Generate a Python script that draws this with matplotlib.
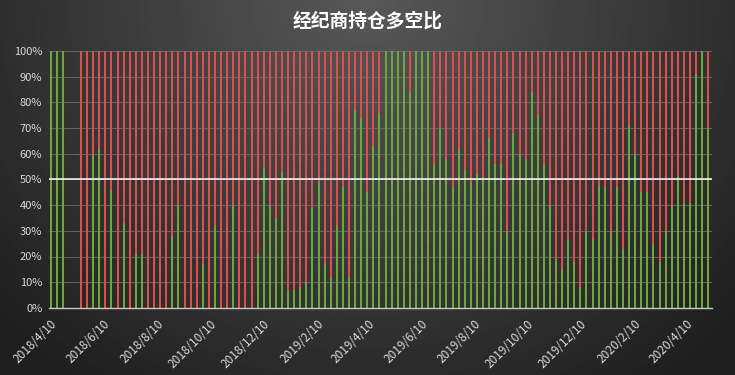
import numpy as np
import pandas as pd
import matplotlib
matplotlib.use("Agg")
import matplotlib.pyplot as plt
import matplotlib.dates as mdates

plt.rcParams['font.family'] = ['Noto Sans CJK SC', 'DejaVu Sans']

# weekly report dates (Tuesdays), long share in % (None = no report that week)
dates = pd.date_range("2018-04-10", "2020-05-05", freq="7D")
long_pct = [
    100, 100, 100, None, None, 0, 0, 60, 62, 0,
    46, 0, 33, 0, 21, 21, 0, 0, 0, 0,
    28, 40, 0, 0, 0, 17, 0, 32, 0, 0,
    40, 0, 0, 0, 21, 55, 40, 35, 53, 7,
    7, 8, 10, 39, 49, 17, 12, 32, 47, 12,
    77, 74, 45, 63, 76, 100, 100, 100, 100, 84,
    100, 100, 100, 56, 70, 58, 47, 62, 54, 49,
    52, 51, 66, 56, 56, 30, 68, 60, 58, 84,
    75, 56, 40, 19, 15, 27, 18, 8, 30, 27,
    48, 47, 30, 47, 23, 71, 60, 45, 45, 25,
    18, 30, 40, 51, 41, 41, 91, 100, 70,
]
tick_dates = ["2018-04-10", "2018-06-10", "2018-08-10", "2018-10-10", "2018-12-10",
              "2019-02-10", "2019-04-10", "2019-06-10", "2019-08-10", "2019-10-10",
              "2019-12-10", "2020-02-10", "2020-04-10"]
tick_labels = ["2018/4/10", "2018/6/10", "2018/8/10", "2018/10/10", "2018/12/10",
               "2019/2/10", "2019/4/10", "2019/6/10", "2019/8/10", "2019/10/10",
               "2019/12/10", "2020/2/10", "2020/4/10"]

GREEN = "#6aa83c"
RED = "#dc4f4b"

fig = plt.figure(figsize=(7.35, 3.75), dpi=100)

# dark radial background, lighter near top centre
bg = fig.add_axes([0, 0, 1, 1], zorder=-1)
yy, xx = np.mgrid[0:1:300j, 0:1:600j]
d = np.sqrt(((xx - 0.5) / 0.62) ** 2 + (yy / 1.15) ** 2)
shade = np.clip(88 - 52 * d, 30, 90) / 255
bg.imshow(shade, cmap="gray", vmin=0, vmax=1, aspect="auto", extent=[0, 1, 0, 1])
bg.axis("off")

ax = fig.add_axes([0.067, 0.179, 0.902, 0.685])
ax.set_facecolor("none")

x = mdates.date2num(dates.to_pydatetime())
keep = [i for i, v in enumerate(long_pct) if v is not None]
xs = x[keep]
lo = np.array([long_pct[i] for i in keep], dtype=float) / 100

# bars are only ~1px wide on a daily date axis, so draw them as thin stems
# (no antialiasing, otherwise stems falling between pixels come out washed out)
ax.vlines(xs, 0, lo, color=GREEN, lw=1.3, zorder=2, antialiased=False)
ax.vlines(xs, lo, 1, color=RED, lw=1.3, zorder=2, antialiased=False)
ax.axhline(0.5, color="white", lw=1.1, zorder=3)

ax.set_xlim(x[0] - 1.5, x[-1] + 4.5)
ax.set_ylim(0, 1)
ax.set_yticks(np.arange(0, 1.01, 0.1))
ax.set_yticklabels([f"{int(round(v * 100))}%" for v in np.arange(0, 1.01, 0.1)])
ax.yaxis.grid(True, color="#6e6e6e", lw=0.6, zorder=0)
ax.set_axisbelow(True)

ax.set_xticks(mdates.date2num(pd.to_datetime(tick_dates).to_pydatetime()))
ax.set_xticklabels(tick_labels, rotation=45, ha="right", rotation_mode="anchor")

ax.tick_params(axis="both", length=0, colors="#d9d9d9", labelsize=8)
ax.tick_params(axis="x", pad=7, labelsize=8.5)
ax.tick_params(axis="y", pad=5)
for s in ["top", "right", "left"]:
    ax.spines[s].set_visible(False)
ax.spines["bottom"].set_color("#c8c8c8")
ax.spines["bottom"].set_linewidth(1.0)

fig.text(0.5, 0.945, "经纪商持仓多空比", color="white", fontsize=13.5,
         fontweight="bold", ha="center", va="center")

fig.savefig("out.png", dpi=100)
